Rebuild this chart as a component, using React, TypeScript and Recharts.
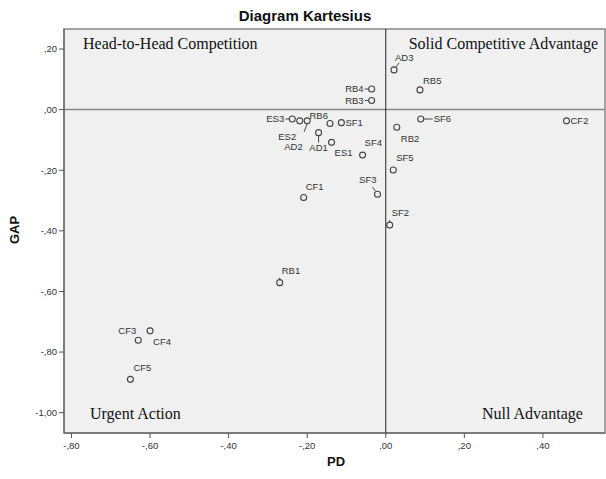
import {
  ScatterChart,
  Scatter,
  XAxis,
  YAxis,
  ReferenceArea,
  ReferenceLine,
} from "recharts";

const names = [
  "AD1", "AD2", "AD3", "CF1", "CF2", "CF3", "CF4", "CF5", "ES1", "ES2", "ES3", "RB1",
  "RB2", "RB3", "RB4", "RB5", "RB6", "SF1", "SF2", "SF3", "SF4", "SF5", "SF6",
];
const pdValues = [
  -0.171, -0.219, 0.021, -0.209, 0.46, -0.63, -0.6, -0.65, -0.138, -0.2, -0.238, -0.27,
  0.028, -0.036, -0.036, 0.087, -0.142, -0.113, 0.01, -0.021, -0.059, 0.019, 0.089,
];
const gapValues = [
  -0.076, -0.037, 0.131, -0.29, -0.037, -0.761, -0.73, -0.89, -0.108, -0.037, -0.031, -0.571,
  -0.058, 0.03, 0.068, 0.065, -0.046, -0.043, -0.381, -0.279, -0.15, -0.199, -0.031,
];
const xTicks = [-0.8, -0.6, -0.4, -0.2, 0, 0.2, 0.4];
const yTicks = [0.2, 0, -0.2, -0.4, -0.6, -0.8, -1];

const X_DOMAIN: [number, number] = [-0.819, 0.558];
const Y_DOMAIN: [number, number] = [-1.067, 0.266];

// label offsets (px) relative to the marker, plus optional leader line
type Place = { dx: number; dy: number; anchor?: "start" | "end" | "middle"; lead?: number[] };
const labelPlace: Record<string, Place> = {
  AD1: { dx: 0, dy: 18, anchor: "middle", lead: [0, 3, 0, 10] },
  AD2: { dx: 3, dy: 29, anchor: "end" },
  AD3: { dx: 1, dy: -9, lead: [2, -3, 5, -7] },
  CF1: { dx: 2, dy: -8 },
  CF2: { dx: 4, dy: 3 },
  CF3: { dx: -2, dy: -6, anchor: "end" },
  CF4: { dx: 3, dy: 14 },
  CF5: { dx: 3, dy: -8 },
  ES1: { dx: 3, dy: 14 },
  ES2: { dx: -11, dy: 19, anchor: "end", lead: [0, 3, -3, 11] },
  ES3: { dx: -8, dy: 3, anchor: "end", lead: [-3, 0, -7, 0] },
  RB1: { dx: 2, dy: -9, lead: [0, -3, 0, -5] },
  RB2: { dx: 4, dy: 15 },
  RB3: { dx: -8, dy: 3, anchor: "end", lead: [-3, 0, -7, 0] },
  RB4: { dx: -8, dy: 3, anchor: "end", lead: [-3, 0, -7, 0] },
  RB5: { dx: 3, dy: -6 },
  RB6: { dx: -2, dy: -5, anchor: "end" },
  SF1: { dx: 4, dy: 3 },
  SF2: { dx: 2, dy: -9, lead: [0, -3, 0, -5] },
  SF3: { dx: -1, dy: -11, anchor: "end", lead: [-2, -3, -5, -7] },
  SF4: { dx: 2, dy: -9 },
  SF5: { dx: 3, dy: -9 },
  SF6: { dx: 13, dy: 3, lead: [3, 0, 12, 0] },
};

const points = names.map((name, i) => ({ name, x: pdValues[i], y: gapValues[i] }));

const fmt = (v: number) => {
  const s = v.toFixed(2).replace(".", ",");
  return s.replace(/^(-?)0,/, "$1,");
};

const sans = "'Liberation Sans', Arial, sans-serif";
const serif = "'Liberation Serif', 'Times New Roman', serif";

const Marker = (props: any) => {
  const { cx, cy, payload } = props;
  const p = labelPlace[payload.name] || { dx: 4, dy: 3 };
  return (
    <g>
      {p.lead && (
        <line
          x1={cx + p.lead[0]}
          y1={cy + p.lead[1]}
          x2={cx + p.lead[2]}
          y2={cy + p.lead[3]}
          stroke="#444"
          strokeWidth={1}
        />
      )}
      <circle cx={cx} cy={cy} r={3} fill="none" stroke="#444" strokeWidth={1.1} />
      <text
        x={cx + p.dx}
        y={cy + p.dy}
        textAnchor={p.anchor || "start"}
        fontSize={9.5}
        fontFamily={sans}
        fill="#333"
      >
        {payload.name}
      </text>
    </g>
  );
};

export default function App() {
  return (
    <div style={{ position: "absolute", left: 0, top: 0, width: 606, height: 479, background: "#fff" }}>
      <ScatterChart width={606} height={479} margin={{ top: 29, right: 1, bottom: 0, left: 0 }}>
        <XAxis
          type="number"
          dataKey="x"
          domain={X_DOMAIN}
          ticks={xTicks}
          tickFormatter={fmt}
          allowDataOverflow
          height={46}
          tickSize={5}
          tickMargin={4}
          axisLine={{ stroke: "#555" }}
          tickLine={{ stroke: "#555" }}
          tick={{ fontSize: 9.5, fill: "#333", fontFamily: sans }}
        />
        <YAxis
          type="number"
          dataKey="y"
          domain={Y_DOMAIN}
          ticks={yTicks}
          tickFormatter={fmt}
          allowDataOverflow
          width={64}
          tickSize={5}
          tickMargin={2}
          axisLine={{ stroke: "#555" }}
          tickLine={{ stroke: "#555" }}
          tick={{ fontSize: 9.5, fill: "#333", fontFamily: sans }}
        />
        <ReferenceArea
          x1={X_DOMAIN[0]}
          x2={X_DOMAIN[1]}
          y1={Y_DOMAIN[0]}
          y2={Y_DOMAIN[1]}
          fill="#f0f0f0"
          fillOpacity={1}
          stroke="#888"
          strokeWidth={1.5}
        />
        <ReferenceLine y={0} stroke="#888" strokeWidth={1.5} />
        <ReferenceLine x={0} stroke="#222" strokeWidth={1} />
        <Scatter data={points} shape={Marker} isAnimationActive={false} />
      </ScatterChart>
      <svg
        width={606}
        height={479}
        style={{ position: "absolute", left: 0, top: 0, pointerEvents: "none" }}
      >
        <text x={305} y={21} textAnchor="middle" fontSize={15} fontWeight="bold" fontFamily={sans} fill="#111">
          Diagram Kartesius
        </text>
        <text
          x={0}
          y={0}
          transform="translate(19,230) rotate(-90)"
          textAnchor="middle"
          fontSize={13}
          fontWeight="bold"
          fontFamily={sans}
          fill="#111"
        >
          GAP
        </text>
        <text x={336} y={466} textAnchor="middle" fontSize={13} fontWeight="bold" fontFamily={sans} fill="#111">
          PD
        </text>
        <text x={83} y={49} fontSize={16} fontFamily={serif} fill="#111">
          Head-to-Head Competition
        </text>
        <text x={598} y={49} textAnchor="end" fontSize={16} fontFamily={serif} fill="#111">
          Solid Competitive Advantage
        </text>
        <text x={90} y={419} fontSize={16} fontFamily={serif} fill="#111">
          Urgent Action
        </text>
        <text x={482} y={419} fontSize={16} fontFamily={serif} fill="#111">
          Null Advantage
        </text>
      </svg>
    </div>
  );
}
